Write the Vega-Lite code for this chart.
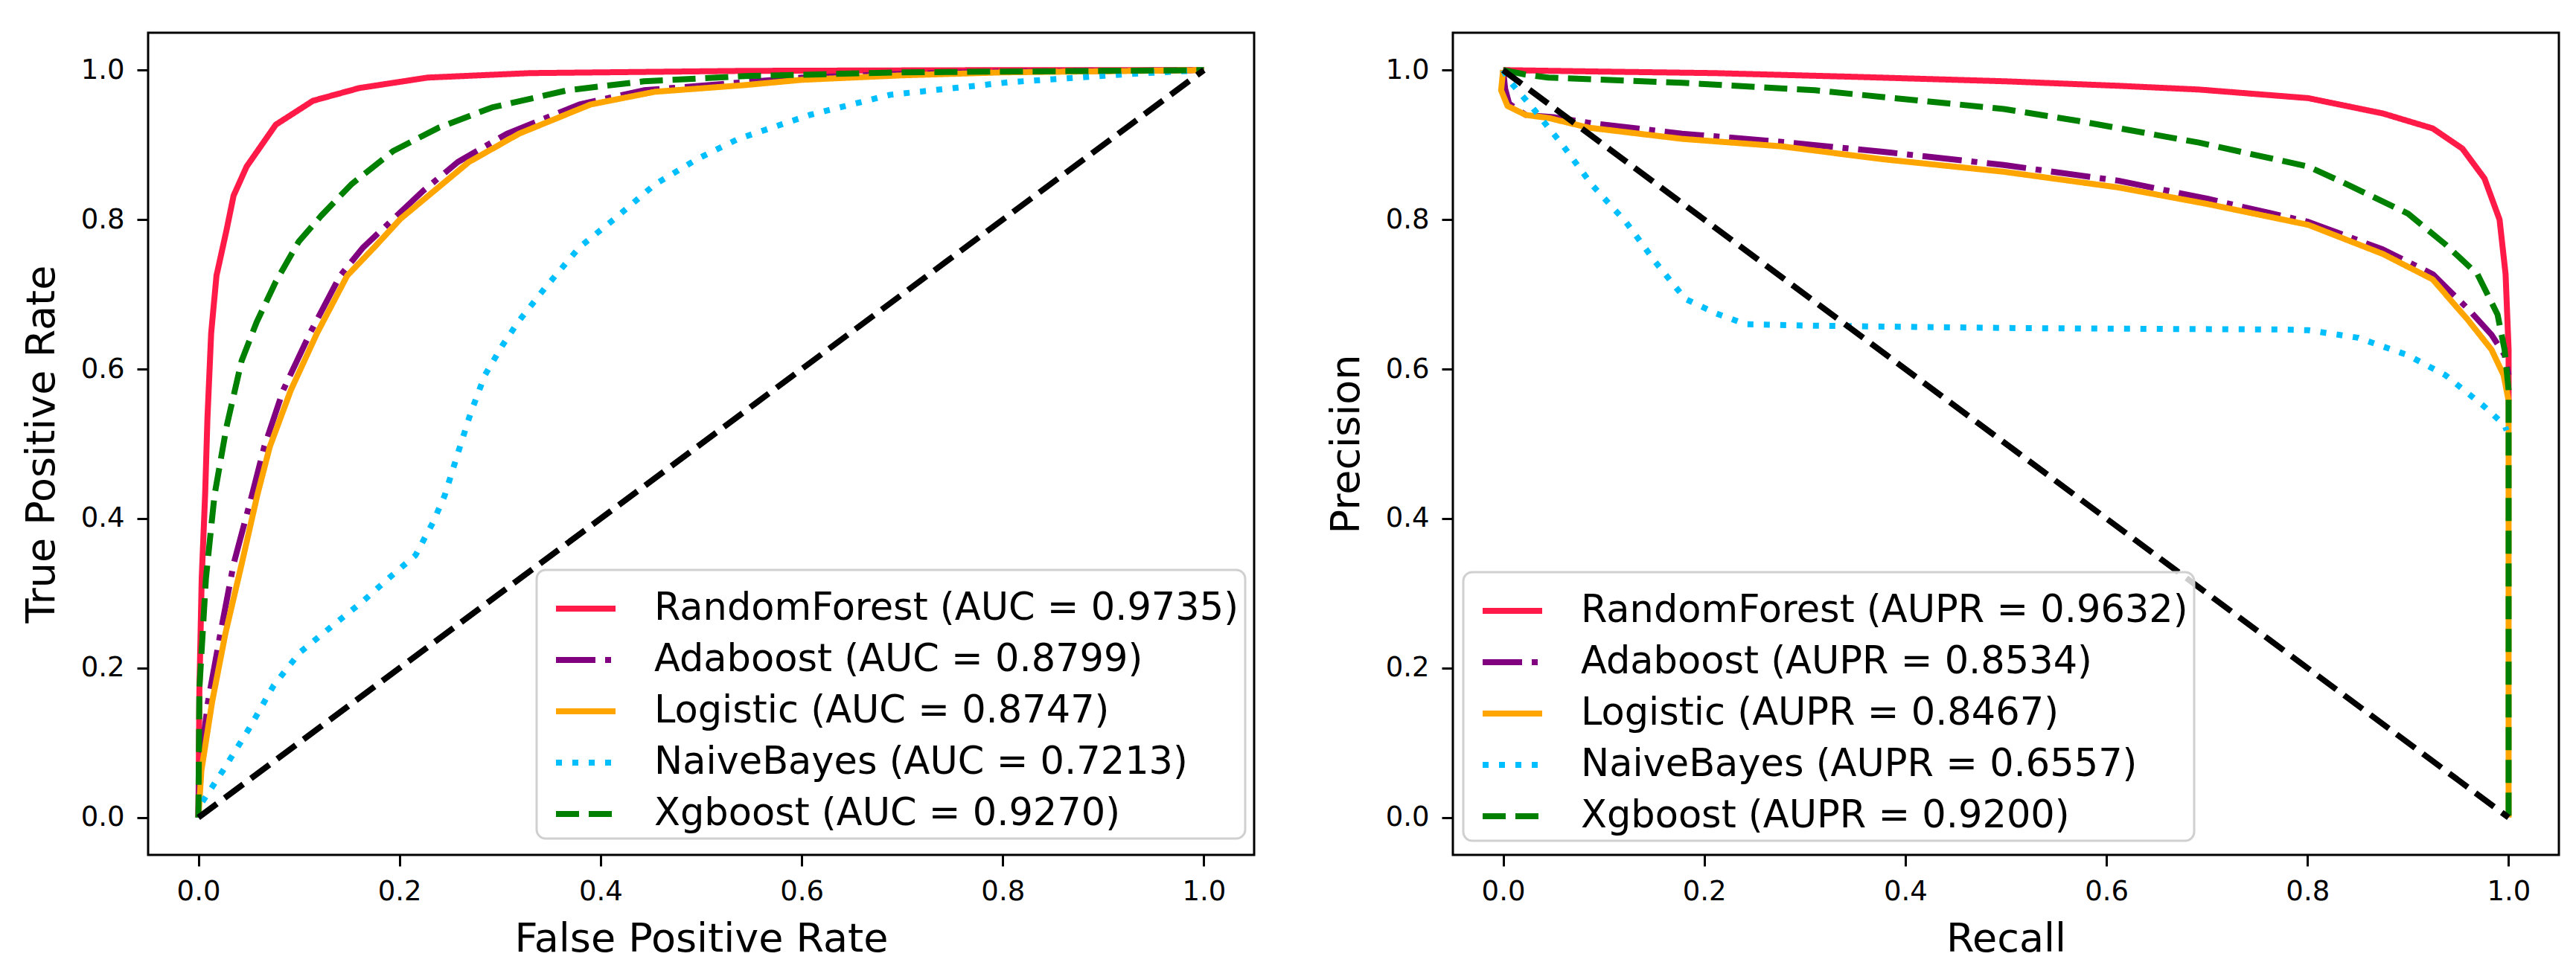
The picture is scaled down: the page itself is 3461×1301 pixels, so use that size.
{
  "$schema": "https://vega.github.io/schema/vega-lite/v6.json",
  "background": "white",
  "padding": {"left": 27, "top": 42, "right": 20, "bottom": 10},
  "bounds": "flush",
  "spacing": 267,
  "datasets": {
    "roc": [
      {"m": "RandomForest", "i": 0, "x": 0, "y": 0},
      {"m": "RandomForest", "i": 1, "x": 0.001, "y": 0.17},
      {"m": "RandomForest", "i": 2, "x": 0.0033, "y": 0.32},
      {"m": "RandomForest", "i": 3, "x": 0.0067, "y": 0.432},
      {"m": "RandomForest", "i": 4, "x": 0.009, "y": 0.534},
      {"m": "RandomForest", "i": 5, "x": 0.0127, "y": 0.648},
      {"m": "RandomForest", "i": 6, "x": 0.018, "y": 0.725},
      {"m": "RandomForest", "i": 7, "x": 0.028, "y": 0.786},
      {"m": "RandomForest", "i": 8, "x": 0.035, "y": 0.832},
      {"m": "RandomForest", "i": 9, "x": 0.048, "y": 0.871},
      {"m": "RandomForest", "i": 10, "x": 0.077, "y": 0.927},
      {"m": "RandomForest", "i": 11, "x": 0.114, "y": 0.959},
      {"m": "RandomForest", "i": 12, "x": 0.16, "y": 0.976},
      {"m": "RandomForest", "i": 13, "x": 0.228, "y": 0.99},
      {"m": "RandomForest", "i": 14, "x": 0.33, "y": 0.996},
      {"m": "RandomForest", "i": 15, "x": 0.544, "y": 0.999},
      {"m": "RandomForest", "i": 16, "x": 0.8, "y": 1.0},
      {"m": "RandomForest", "i": 17, "x": 1, "y": 1},
      {"m": "Adaboost", "i": 0, "x": 0, "y": 0},
      {"m": "Adaboost", "i": 1, "x": 0.001, "y": 0.063},
      {"m": "Adaboost", "i": 2, "x": 0.0096, "y": 0.155},
      {"m": "Adaboost", "i": 3, "x": 0.022, "y": 0.247},
      {"m": "Adaboost", "i": 4, "x": 0.035, "y": 0.339},
      {"m": "Adaboost", "i": 5, "x": 0.0534, "y": 0.432},
      {"m": "Adaboost", "i": 6, "x": 0.0655, "y": 0.496},
      {"m": "Adaboost", "i": 7, "x": 0.0844, "y": 0.572},
      {"m": "Adaboost", "i": 8, "x": 0.111, "y": 0.648},
      {"m": "Adaboost", "i": 9, "x": 0.141, "y": 0.725},
      {"m": "Adaboost", "i": 10, "x": 0.164, "y": 0.763},
      {"m": "Adaboost", "i": 11, "x": 0.194, "y": 0.801},
      {"m": "Adaboost", "i": 12, "x": 0.224, "y": 0.839},
      {"m": "Adaboost", "i": 13, "x": 0.258, "y": 0.877},
      {"m": "Adaboost", "i": 14, "x": 0.307, "y": 0.915},
      {"m": "Adaboost", "i": 15, "x": 0.379, "y": 0.954},
      {"m": "Adaboost", "i": 16, "x": 0.443, "y": 0.973},
      {"m": "Adaboost", "i": 17, "x": 0.544, "y": 0.984},
      {"m": "Adaboost", "i": 18, "x": 0.6, "y": 0.99},
      {"m": "Adaboost", "i": 19, "x": 0.7, "y": 0.995},
      {"m": "Adaboost", "i": 20, "x": 0.8, "y": 0.998},
      {"m": "Adaboost", "i": 21, "x": 1, "y": 1},
      {"m": "Logistic", "i": 0, "x": 0, "y": 0},
      {"m": "Logistic", "i": 1, "x": 0.003, "y": 0.063},
      {"m": "Logistic", "i": 2, "x": 0.0137, "y": 0.155},
      {"m": "Logistic", "i": 3, "x": 0.027, "y": 0.247},
      {"m": "Logistic", "i": 4, "x": 0.043, "y": 0.339},
      {"m": "Logistic", "i": 5, "x": 0.0587, "y": 0.432},
      {"m": "Logistic", "i": 6, "x": 0.071, "y": 0.496},
      {"m": "Logistic", "i": 7, "x": 0.092, "y": 0.572},
      {"m": "Logistic", "i": 8, "x": 0.118, "y": 0.648},
      {"m": "Logistic", "i": 9, "x": 0.148, "y": 0.725},
      {"m": "Logistic", "i": 10, "x": 0.175, "y": 0.763},
      {"m": "Logistic", "i": 11, "x": 0.201, "y": 0.801},
      {"m": "Logistic", "i": 12, "x": 0.235, "y": 0.839},
      {"m": "Logistic", "i": 13, "x": 0.269, "y": 0.877},
      {"m": "Logistic", "i": 14, "x": 0.319, "y": 0.915},
      {"m": "Logistic", "i": 15, "x": 0.39, "y": 0.954},
      {"m": "Logistic", "i": 16, "x": 0.454, "y": 0.971},
      {"m": "Logistic", "i": 17, "x": 0.544, "y": 0.98},
      {"m": "Logistic", "i": 18, "x": 0.6, "y": 0.987},
      {"m": "Logistic", "i": 19, "x": 0.7, "y": 0.993},
      {"m": "Logistic", "i": 20, "x": 0.8, "y": 0.997},
      {"m": "Logistic", "i": 21, "x": 1, "y": 1},
      {"m": "NaiveBayes", "i": 0, "x": 0, "y": 0},
      {"m": "NaiveBayes", "i": 1, "x": 0.003, "y": 0.019},
      {"m": "NaiveBayes", "i": 2, "x": 0.0245, "y": 0.063},
      {"m": "NaiveBayes", "i": 3, "x": 0.05, "y": 0.118},
      {"m": "NaiveBayes", "i": 4, "x": 0.075, "y": 0.177},
      {"m": "NaiveBayes", "i": 5, "x": 0.101, "y": 0.221},
      {"m": "NaiveBayes", "i": 6, "x": 0.131, "y": 0.254},
      {"m": "NaiveBayes", "i": 7, "x": 0.165, "y": 0.291},
      {"m": "NaiveBayes", "i": 8, "x": 0.19, "y": 0.321},
      {"m": "NaiveBayes", "i": 9, "x": 0.216, "y": 0.351},
      {"m": "NaiveBayes", "i": 10, "x": 0.233, "y": 0.394},
      {"m": "NaiveBayes", "i": 11, "x": 0.245, "y": 0.431},
      {"m": "NaiveBayes", "i": 12, "x": 0.258, "y": 0.487},
      {"m": "NaiveBayes", "i": 13, "x": 0.271, "y": 0.542},
      {"m": "NaiveBayes", "i": 14, "x": 0.285, "y": 0.592},
      {"m": "NaiveBayes", "i": 15, "x": 0.303, "y": 0.633},
      {"m": "NaiveBayes", "i": 16, "x": 0.318, "y": 0.663},
      {"m": "NaiveBayes", "i": 17, "x": 0.345, "y": 0.709},
      {"m": "NaiveBayes", "i": 18, "x": 0.379, "y": 0.763},
      {"m": "NaiveBayes", "i": 19, "x": 0.413, "y": 0.8},
      {"m": "NaiveBayes", "i": 20, "x": 0.454, "y": 0.847},
      {"m": "NaiveBayes", "i": 21, "x": 0.496, "y": 0.881},
      {"m": "NaiveBayes", "i": 22, "x": 0.537, "y": 0.908},
      {"m": "NaiveBayes", "i": 23, "x": 0.608, "y": 0.94},
      {"m": "NaiveBayes", "i": 24, "x": 0.688, "y": 0.967},
      {"m": "NaiveBayes", "i": 25, "x": 0.808, "y": 0.984},
      {"m": "NaiveBayes", "i": 26, "x": 0.929, "y": 0.995},
      {"m": "NaiveBayes", "i": 27, "x": 1, "y": 1},
      {"m": "Xgboost", "i": 0, "x": 0, "y": 0},
      {"m": "Xgboost", "i": 1, "x": 0.001, "y": 0.173},
      {"m": "Xgboost", "i": 2, "x": 0.0075, "y": 0.32},
      {"m": "Xgboost", "i": 3, "x": 0.016, "y": 0.431},
      {"m": "Xgboost", "i": 4, "x": 0.028, "y": 0.523},
      {"m": "Xgboost", "i": 5, "x": 0.043, "y": 0.611},
      {"m": "Xgboost", "i": 6, "x": 0.058, "y": 0.663},
      {"m": "Xgboost", "i": 7, "x": 0.077, "y": 0.717},
      {"m": "Xgboost", "i": 8, "x": 0.1, "y": 0.771},
      {"m": "Xgboost", "i": 9, "x": 0.122, "y": 0.805},
      {"m": "Xgboost", "i": 10, "x": 0.152, "y": 0.847},
      {"m": "Xgboost", "i": 11, "x": 0.194, "y": 0.892},
      {"m": "Xgboost", "i": 12, "x": 0.239, "y": 0.923},
      {"m": "Xgboost", "i": 13, "x": 0.292, "y": 0.95},
      {"m": "Xgboost", "i": 14, "x": 0.367, "y": 0.973},
      {"m": "Xgboost", "i": 15, "x": 0.443, "y": 0.985},
      {"m": "Xgboost", "i": 16, "x": 0.544, "y": 0.992},
      {"m": "Xgboost", "i": 17, "x": 0.7, "y": 0.997},
      {"m": "Xgboost", "i": 18, "x": 1, "y": 1}
    ],
    "pr": [
      {"m": "RandomForest", "i": 0, "x": 0, "y": 1.0},
      {"m": "RandomForest", "i": 1, "x": 0.1, "y": 0.998},
      {"m": "RandomForest", "i": 2, "x": 0.21, "y": 0.996},
      {"m": "RandomForest", "i": 3, "x": 0.35, "y": 0.991},
      {"m": "RandomForest", "i": 4, "x": 0.5, "y": 0.985},
      {"m": "RandomForest", "i": 5, "x": 0.612, "y": 0.979},
      {"m": "RandomForest", "i": 6, "x": 0.692, "y": 0.974},
      {"m": "RandomForest", "i": 7, "x": 0.8007, "y": 0.9625},
      {"m": "RandomForest", "i": 8, "x": 0.875, "y": 0.942},
      {"m": "RandomForest", "i": 9, "x": 0.9245, "y": 0.922},
      {"m": "RandomForest", "i": 10, "x": 0.954, "y": 0.895},
      {"m": "RandomForest", "i": 11, "x": 0.976, "y": 0.855},
      {"m": "RandomForest", "i": 12, "x": 0.991, "y": 0.8},
      {"m": "RandomForest", "i": 13, "x": 0.997, "y": 0.727},
      {"m": "RandomForest", "i": 14, "x": 1.0, "y": 0.626},
      {"m": "RandomForest", "i": 15, "x": 1.0, "y": 0.558},
      {"m": "Adaboost", "i": 0, "x": 0, "y": 1.0},
      {"m": "Adaboost", "i": 1, "x": 0.002, "y": 0.975},
      {"m": "Adaboost", "i": 2, "x": 0.006, "y": 0.955},
      {"m": "Adaboost", "i": 3, "x": 0.0225, "y": 0.94},
      {"m": "Adaboost", "i": 4, "x": 0.05, "y": 0.937},
      {"m": "Adaboost", "i": 5, "x": 0.088, "y": 0.929},
      {"m": "Adaboost", "i": 6, "x": 0.178, "y": 0.915},
      {"m": "Adaboost", "i": 7, "x": 0.277, "y": 0.904},
      {"m": "Adaboost", "i": 8, "x": 0.376, "y": 0.891},
      {"m": "Adaboost", "i": 9, "x": 0.498, "y": 0.873},
      {"m": "Adaboost", "i": 10, "x": 0.612, "y": 0.852},
      {"m": "Adaboost", "i": 11, "x": 0.7, "y": 0.828},
      {"m": "Adaboost", "i": 12, "x": 0.8007, "y": 0.797},
      {"m": "Adaboost", "i": 13, "x": 0.875, "y": 0.76},
      {"m": "Adaboost", "i": 14, "x": 0.9245, "y": 0.727},
      {"m": "Adaboost", "i": 15, "x": 0.96, "y": 0.68},
      {"m": "Adaboost", "i": 16, "x": 0.983, "y": 0.646},
      {"m": "Adaboost", "i": 17, "x": 0.996, "y": 0.619},
      {"m": "Adaboost", "i": 18, "x": 1.0, "y": 0.592},
      {"m": "Logistic", "i": 0, "x": 0, "y": 1.0},
      {"m": "Logistic", "i": 1, "x": -0.002, "y": 0.973},
      {"m": "Logistic", "i": 2, "x": 0.0044, "y": 0.952},
      {"m": "Logistic", "i": 3, "x": 0.0225, "y": 0.94},
      {"m": "Logistic", "i": 4, "x": 0.045, "y": 0.936},
      {"m": "Logistic", "i": 5, "x": 0.085, "y": 0.923},
      {"m": "Logistic", "i": 6, "x": 0.178, "y": 0.908},
      {"m": "Logistic", "i": 7, "x": 0.277, "y": 0.898},
      {"m": "Logistic", "i": 8, "x": 0.376, "y": 0.881},
      {"m": "Logistic", "i": 9, "x": 0.498, "y": 0.864},
      {"m": "Logistic", "i": 10, "x": 0.612, "y": 0.843},
      {"m": "Logistic", "i": 11, "x": 0.7, "y": 0.821},
      {"m": "Logistic", "i": 12, "x": 0.8007, "y": 0.793},
      {"m": "Logistic", "i": 13, "x": 0.875, "y": 0.754},
      {"m": "Logistic", "i": 14, "x": 0.9245, "y": 0.72},
      {"m": "Logistic", "i": 15, "x": 0.96, "y": 0.665},
      {"m": "Logistic", "i": 16, "x": 0.983, "y": 0.626},
      {"m": "Logistic", "i": 17, "x": 0.995, "y": 0.592},
      {"m": "Logistic", "i": 18, "x": 1.0, "y": 0.558},
      {"m": "Logistic", "i": 19, "x": 1.0, "y": 0.0},
      {"m": "NaiveBayes", "i": 0, "x": 0, "y": 1.0},
      {"m": "NaiveBayes", "i": 1, "x": 0.006, "y": 0.986},
      {"m": "NaiveBayes", "i": 2, "x": 0.029, "y": 0.95},
      {"m": "NaiveBayes", "i": 3, "x": 0.059, "y": 0.9},
      {"m": "NaiveBayes", "i": 4, "x": 0.088, "y": 0.847},
      {"m": "NaiveBayes", "i": 5, "x": 0.122, "y": 0.797},
      {"m": "NaiveBayes", "i": 6, "x": 0.151, "y": 0.744},
      {"m": "NaiveBayes", "i": 7, "x": 0.181, "y": 0.694},
      {"m": "NaiveBayes", "i": 8, "x": 0.211, "y": 0.675},
      {"m": "NaiveBayes", "i": 9, "x": 0.241, "y": 0.66},
      {"m": "NaiveBayes", "i": 10, "x": 0.31, "y": 0.658},
      {"m": "NaiveBayes", "i": 11, "x": 0.498, "y": 0.655},
      {"m": "NaiveBayes", "i": 12, "x": 0.612, "y": 0.654},
      {"m": "NaiveBayes", "i": 13, "x": 0.772, "y": 0.653},
      {"m": "NaiveBayes", "i": 14, "x": 0.8007, "y": 0.652},
      {"m": "NaiveBayes", "i": 15, "x": 0.85, "y": 0.642},
      {"m": "NaiveBayes", "i": 16, "x": 0.899, "y": 0.619},
      {"m": "NaiveBayes", "i": 17, "x": 0.937, "y": 0.592},
      {"m": "NaiveBayes", "i": 18, "x": 0.974, "y": 0.552},
      {"m": "NaiveBayes", "i": 19, "x": 0.996, "y": 0.525},
      {"m": "NaiveBayes", "i": 20, "x": 0.998, "y": 0.518},
      {"m": "Xgboost", "i": 0, "x": 0, "y": 1.0},
      {"m": "Xgboost", "i": 1, "x": 0.0225, "y": 0.994},
      {"m": "Xgboost", "i": 2, "x": 0.045, "y": 0.99},
      {"m": "Xgboost", "i": 3, "x": 0.178, "y": 0.983},
      {"m": "Xgboost", "i": 4, "x": 0.31, "y": 0.973},
      {"m": "Xgboost", "i": 5, "x": 0.498, "y": 0.948},
      {"m": "Xgboost", "i": 6, "x": 0.572, "y": 0.932},
      {"m": "Xgboost", "i": 7, "x": 0.692, "y": 0.903},
      {"m": "Xgboost", "i": 8, "x": 0.8007, "y": 0.871},
      {"m": "Xgboost", "i": 9, "x": 0.838, "y": 0.848},
      {"m": "Xgboost", "i": 10, "x": 0.9, "y": 0.808},
      {"m": "Xgboost", "i": 11, "x": 0.937, "y": 0.767},
      {"m": "Xgboost", "i": 12, "x": 0.969, "y": 0.727},
      {"m": "Xgboost", "i": 13, "x": 0.989, "y": 0.673},
      {"m": "Xgboost", "i": 14, "x": 0.996, "y": 0.626},
      {"m": "Xgboost", "i": 15, "x": 1.0, "y": 0.572},
      {"m": "Xgboost", "i": 16, "x": 1.0, "y": 0.0}
    ],
    "rocDiag": [{"x": 0, "y": 0}, {"x": 1, "y": 1}],
    "prDiag": [{"x": 0, "y": 1}, {"x": 1, "y": 0}]
  },
  "hconcat": [
    {
      "width": 1486,
      "height": 1105,
      "layer": [
        {
          "data": {"name": "roc"},
          "mark": {"type": "line", "strokeWidth": 8},
          "encoding": {
            "x": {"field": "x", "type": "quantitative", "scale": {"domain": [-0.05, 1.05], "nice": false, "zero": false},
                  "axis": {"title": "False Positive Rate", "values": [0, 0.2, 0.4, 0.6, 0.8, 1], "format": ".1f"}},
            "y": {"field": "y", "type": "quantitative", "scale": {"domain": [-0.05, 1.05], "nice": false, "zero": false},
                  "axis": {"title": "True Positive Rate", "values": [0, 0.2, 0.4, 0.6, 0.8, 1], "format": ".1f"}},
            "order": {"field": "i", "type": "quantitative"},
            "color": {"field": "m", "type": "nominal",
              "scale": {"domain": ["RandomForest", "Adaboost", "Logistic", "NaiveBayes", "Xgboost"],
                        "range": ["#ff1a47", "#800080", "#ffa500", "#00bfff", "#008000"]},
              "legend": {"title": null, "orient": "none", "legendX": 522, "legendY": 722,
                "labelExpr": "datum.label == 'RandomForest' ? 'RandomForest (AUC = 0.9735)' : datum.label == 'Adaboost' ? 'Adaboost (AUC = 0.8799)' : datum.label == 'Logistic' ? 'Logistic (AUC = 0.8747)' : datum.label == 'NaiveBayes' ? 'NaiveBayes (AUC = 0.7213)' : 'Xgboost (AUC = 0.9270)'"}},
            "strokeDash": {"field": "m", "type": "nominal",
              "scale": {"domain": ["RandomForest", "Adaboost", "Logistic", "NaiveBayes", "Xgboost"],
                        "range": [[1, 0], [53, 13, 8, 13], [1, 0], [8, 14], [31, 13]]},
              "legend": {"title": null, "orient": "none", "legendX": 522, "legendY": 722,
                "labelExpr": "datum.label == 'RandomForest' ? 'RandomForest (AUC = 0.9735)' : datum.label == 'Adaboost' ? 'Adaboost (AUC = 0.8799)' : datum.label == 'Logistic' ? 'Logistic (AUC = 0.8747)' : datum.label == 'NaiveBayes' ? 'NaiveBayes (AUC = 0.7213)' : 'Xgboost (AUC = 0.9270)'"}}
          }
        },
        {
          "data": {"name": "rocDiag"},
          "mark": {"type": "line", "color": "black", "strokeWidth": 8, "strokeDash": [31, 13]},
          "encoding": {
            "x": {"field": "x", "type": "quantitative"},
            "y": {"field": "y", "type": "quantitative"}
          }
        }
      ]
    },
    {
      "width": 1486,
      "height": 1105,
      "layer": [
        {
          "data": {"name": "pr"},
          "mark": {"type": "line", "strokeWidth": 8},
          "encoding": {
            "x": {"field": "x", "type": "quantitative", "scale": {"domain": [-0.05, 1.05], "nice": false, "zero": false},
                  "axis": {"title": "Recall", "values": [0, 0.2, 0.4, 0.6, 0.8, 1], "format": ".1f"}},
            "y": {"field": "y", "type": "quantitative", "scale": {"domain": [-0.05, 1.05], "nice": false, "zero": false},
                  "axis": {"title": "Precision", "values": [0, 0.2, 0.4, 0.6, 0.8, 1], "format": ".1f"}},
            "order": {"field": "i", "type": "quantitative"},
            "color": {"field": "m", "type": "nominal",
              "scale": {"domain": ["RandomForest", "Adaboost", "Logistic", "NaiveBayes", "Xgboost"],
                        "range": ["#ff1a47", "#800080", "#ffa500", "#00bfff", "#008000"]},
              "legend": {"title": null, "orient": "none", "legendX": 14, "legendY": 725,
                "labelExpr": "datum.label == 'RandomForest' ? 'RandomForest (AUPR = 0.9632)' : datum.label == 'Adaboost' ? 'Adaboost (AUPR = 0.8534)' : datum.label == 'Logistic' ? 'Logistic (AUPR = 0.8467)' : datum.label == 'NaiveBayes' ? 'NaiveBayes (AUPR = 0.6557)' : 'Xgboost (AUPR = 0.9200)'"}},
            "strokeDash": {"field": "m", "type": "nominal",
              "scale": {"domain": ["RandomForest", "Adaboost", "Logistic", "NaiveBayes", "Xgboost"],
                        "range": [[1, 0], [53, 13, 8, 13], [1, 0], [8, 14], [31, 13]]},
              "legend": {"title": null, "orient": "none", "legendX": 14, "legendY": 725,
                "labelExpr": "datum.label == 'RandomForest' ? 'RandomForest (AUPR = 0.9632)' : datum.label == 'Adaboost' ? 'Adaboost (AUPR = 0.8534)' : datum.label == 'Logistic' ? 'Logistic (AUPR = 0.8467)' : datum.label == 'NaiveBayes' ? 'NaiveBayes (AUPR = 0.6557)' : 'Xgboost (AUPR = 0.9200)'"}}
          }
        },
        {
          "data": {"name": "prDiag"},
          "mark": {"type": "line", "color": "black", "strokeWidth": 8, "strokeDash": [31, 13]},
          "encoding": {
            "x": {"field": "x", "type": "quantitative"},
            "y": {"field": "y", "type": "quantitative"}
          }
        }
      ]
    }
  ],
  "resolve": {
    "scale": {"color": "independent", "strokeDash": "independent"},
    "legend": {"color": "independent", "strokeDash": "independent"}
  },
  "config": {
    "font": "DejaVu Sans",
    "view": {"stroke": "black", "strokeWidth": 3},
    "line": {"strokeCap": "butt", "strokeJoin": "round"},
    "axis": {
      "domain": false, "grid": false, "tickColor": "black", "tickWidth": 3, "tickSize": 15,
      "labelFont": "DejaVu Sans", "labelFontSize": 37, "labelColor": "black",
      "titleFont": "DejaVu Sans", "titleFontSize": 54, "titleFontWeight": "normal", "titleColor": "black",
      "labelFlush": false, "labelOverlap": false
    },
    "axisX": {"labelPadding": 16, "titlePadding": 19},
    "axisY": {"labelPadding": 17, "titlePadding": 25},
    "legend": {
      "symbolType": "stroke", "symbolSize": 6400, "symbolStrokeWidth": 8, "symbolOffset": 14,
      "labelFont": "DejaVu Sans", "labelFontSize": 51, "labelColor": "black", "labelLimit": 0,
      "labelOffset": 48, "rowPadding": -15, "padding": 8,
      "strokeColor": "#d0d0d0", "strokeWidth": 3, "fillColor": "rgba(255,255,255,0.8)", "cornerRadius": 12
    }
  }
}
